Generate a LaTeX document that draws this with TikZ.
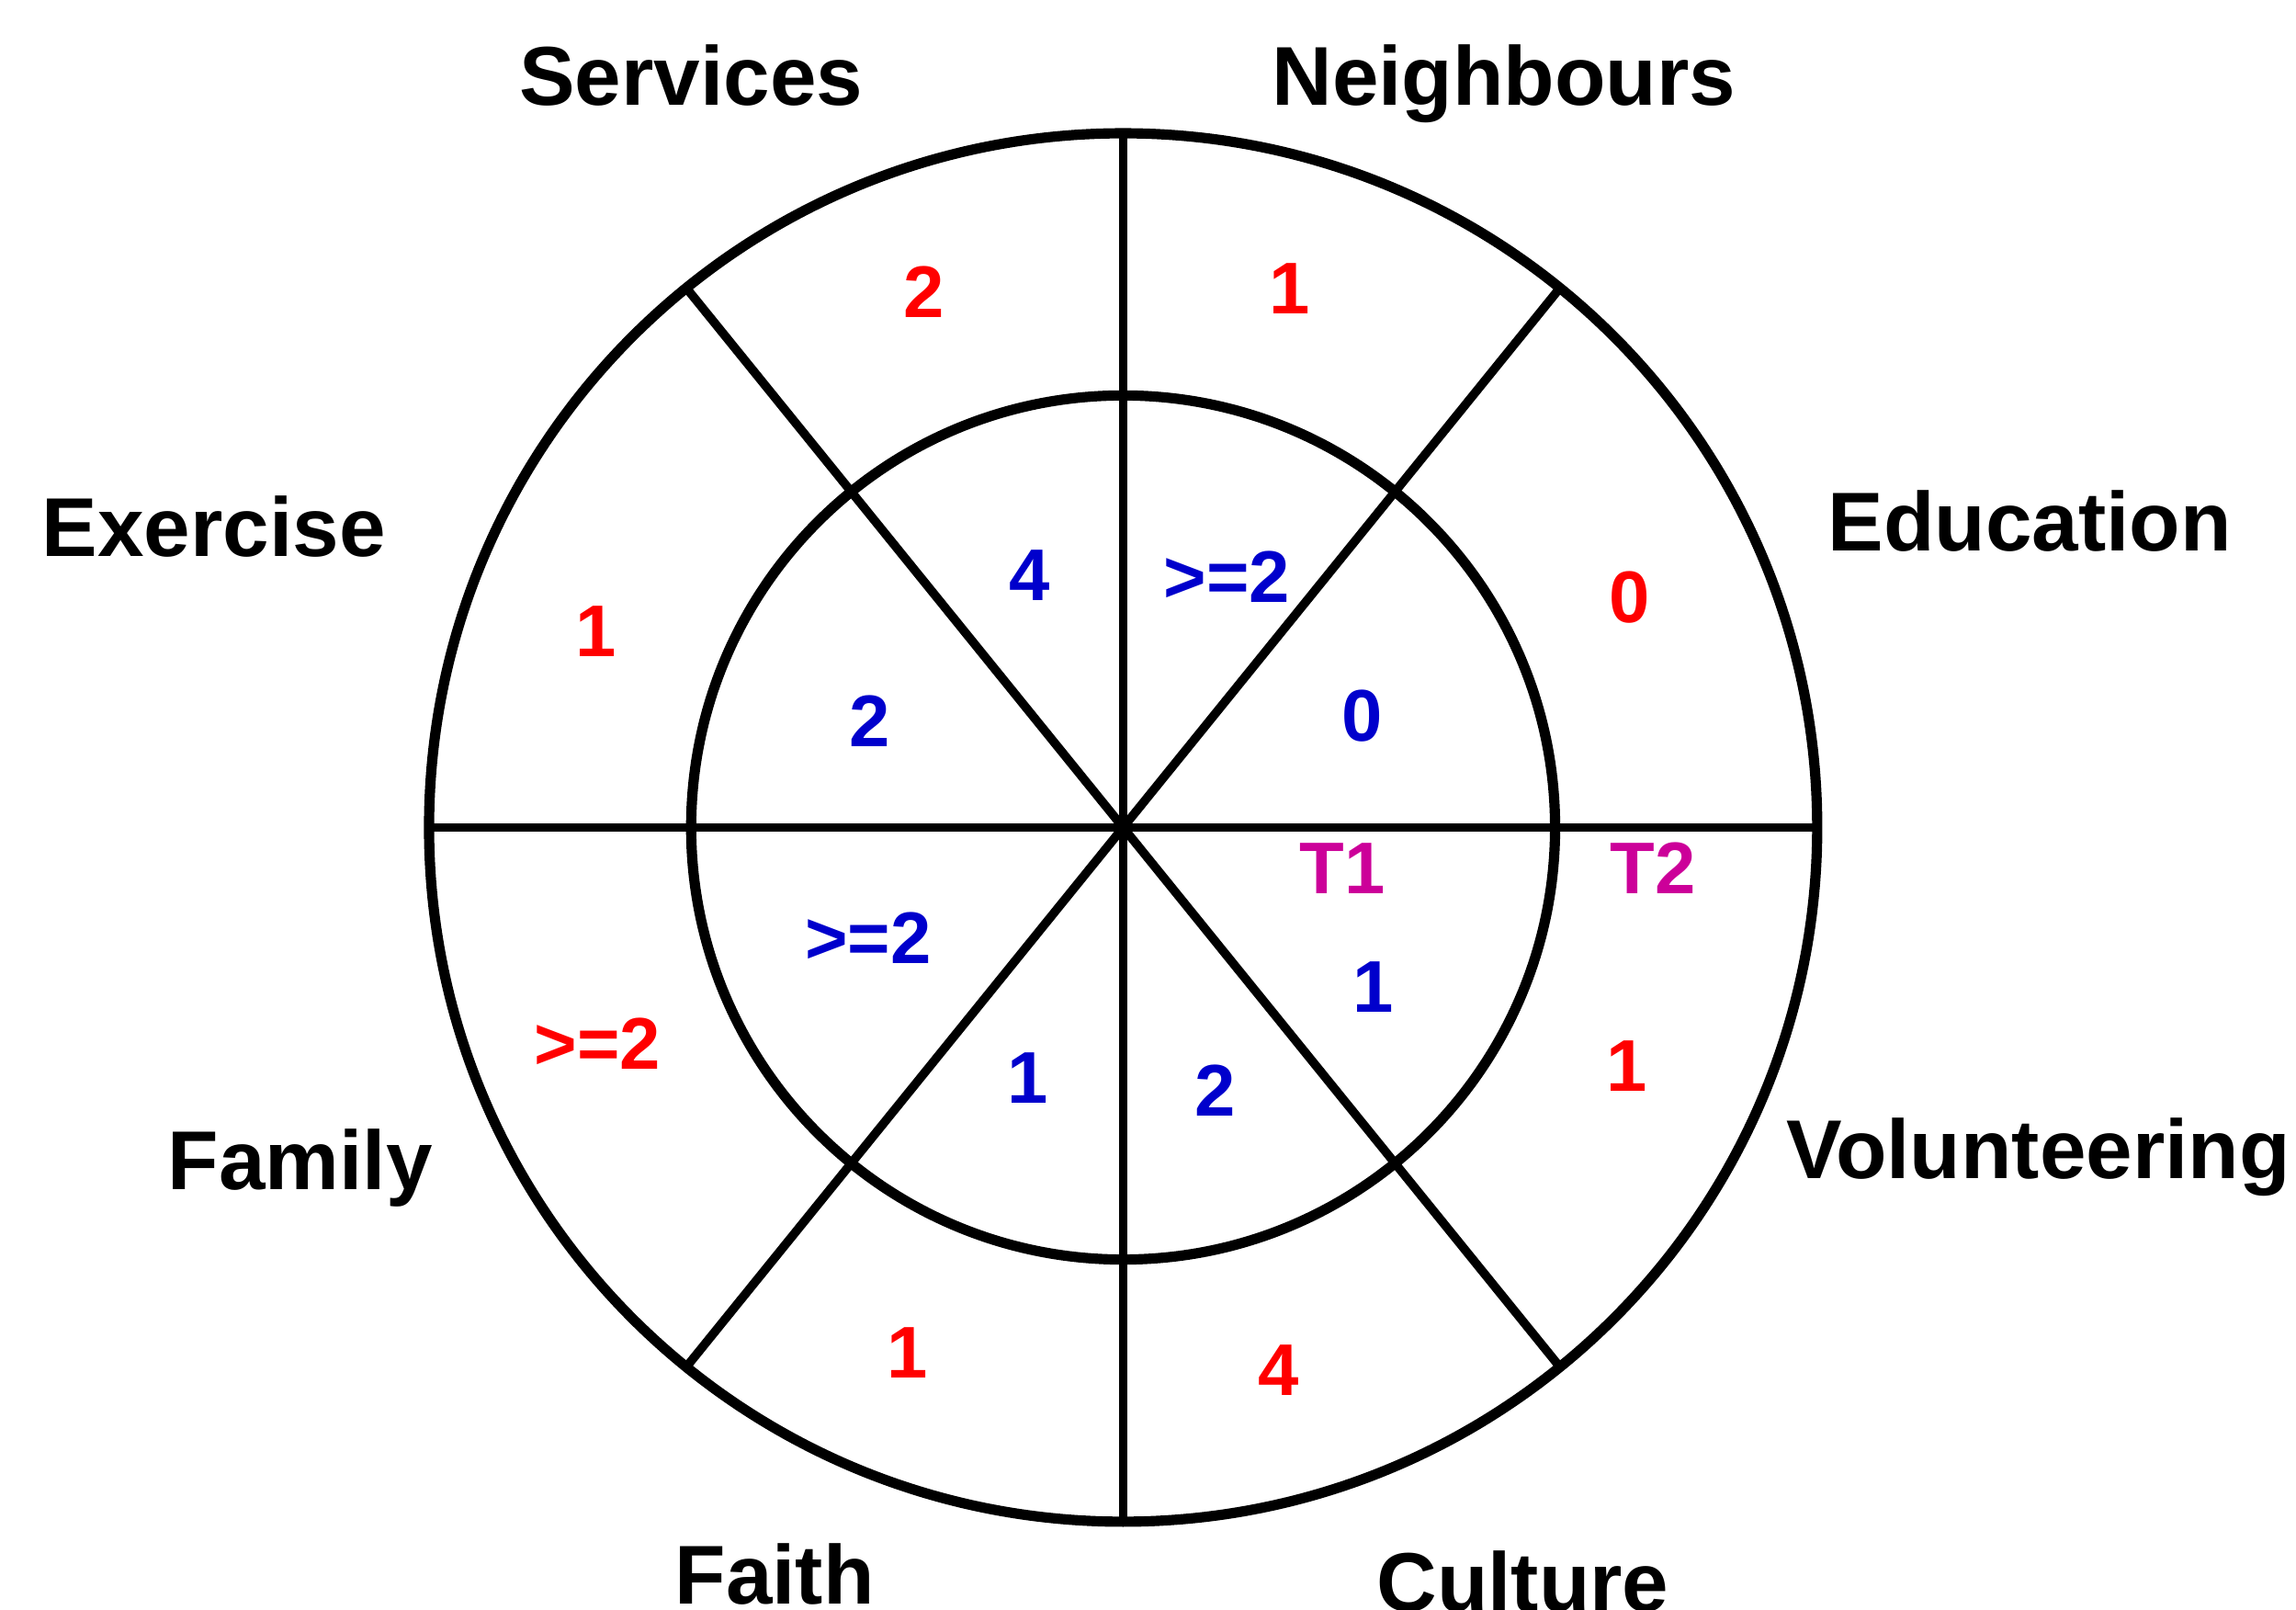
\documentclass[tikz,border=0pt]{standalone}
\usepackage{fontspec}
\setmainfont{Liberation Sans}
\usetikzlibrary{calc}
\definecolor{numred}{HTML}{FF0000}
\definecolor{numblue}{HTML}{0000CC}
\definecolor{numpink}{HTML}{CC0099}
\begin{document}
\begin{tikzpicture}[x=1pt,y=-1pt,
  ringline/.style={line width=7pt},
  spokeline/.style={line width=6pt},
  areaname/.style={font=\fontsize{57}{60}\selectfont\bfseries, anchor=base, inner sep=0pt},
  outerval/.style={font=\fontsize{50}{52}\selectfont\bfseries, text=numred, anchor=base, inner sep=0pt},
  innerval/.style={font=\fontsize{50}{52}\selectfont\bfseries, text=numblue, anchor=base, inner sep=0pt},
  tval/.style={font=\fontsize{50}{52}\selectfont\bfseries, text=numpink, anchor=base, inner sep=0pt}]
\useasboundingbox (0,0) rectangle (1568,1099);
\coordinate (c) at (767,565);
% spokes
\draw[spokeline] ($(c)+(0:474)$) -- ($(c)+(180:474)$);
\draw[spokeline] ($(c)+(90:474)$) -- ($(c)+(270:474)$);
\draw[spokeline] ($(c)+(51:474)$) -- ($(c)+(231:474)$);
\draw[spokeline] ($(c)+(129:474)$) -- ($(c)+(309:474)$);
% rings
\draw[ringline] (c) circle[radius=474pt];
\draw[ringline] (c) circle[radius=295pt];
% area labels
\node[areaname] (services) at (472,72) {Services};
\node[areaname] (neighbours) at (1027,72) {Neighbours};
\node[areaname] (exercise) at (146,380) {Exercise};
\node[areaname] (education) at (1386,376) {Education};
\node[areaname] (family) at (205,812) {Family};
\node[areaname] (volunteering) at (1392,805) {Volunteering};
\node[areaname] (faith) at (529,1095) {Faith};
\node[areaname] (culture) at (1040,1100) {Culture};
% outer (T2) values
\node[outerval] (o1) at (631,217) {2};
\node[outerval] (o2) at (881,214) {1};
\node[outerval] (o3) at (1113,425) {0};
\node[outerval] (o4) at (407,448) {1};
\node[outerval] (o5) at (408,730) {>=2};
\node[outerval] (o6) at (1111,745) {1};
\node[outerval] (o7) at (620,941) {1};
\node[outerval] (o8) at (873,953) {4};
% inner (T1) values
\node[innerval] (i1) at (703,410) {4};
\node[innerval] (i2) at (838,411) {>=2};
\node[innerval] (i3) at (594,510) {2};
\node[innerval] (i4) at (930,506) {0};
\node[innerval] (i5) at (593,658) {>=2};
\node[innerval] (i6) at (938,691) {1};
\node[innerval] (i7) at (702,753) {1};
\node[innerval] (i8) at (830,762) {2};
% ring labels
\node[tval] (t1) at (917,610) {T1};
\node[tval] (t2) at (1129,610) {T2};
\end{tikzpicture}
\end{document}
